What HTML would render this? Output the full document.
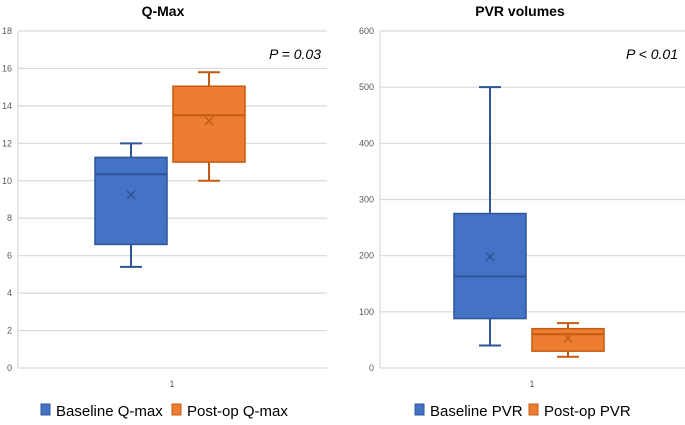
<!DOCTYPE html>
<html><head><meta charset="utf-8"><style>
body{margin:0;background:#fff;font-family:"Liberation Sans",sans-serif}
svg text{font-family:"Liberation Sans",sans-serif}
</style></head><body>
<svg id="c" width="685" height="420" xmlns="http://www.w3.org/2000/svg"></svg>
<script>
const qTicks=[0,2,4,6,8,10,12,14,16,18];
const qBaseline=[5.4,6.6,10.35,11.25,12,9.25];
const qPostop=[10,11,13.5,15.05,15.8,13.2];
const pTicks=[0,100,200,300,400,500,600];
const pBaseline=[40,88,163,275,500,198];
const pPostop=[20,30,60,70,80,53];
const titles=["Q-Max","PVR volumes"];
const pvals=["P = 0.03","P < 0.01"];
const legends=[["Baseline Q-max","Post-op Q-max"],["Baseline PVR","Post-op PVR"]];
const NS="http://www.w3.org/2000/svg";
const svg=document.getElementById('c');
function mk(t,a,p){const e=document.createElementNS(NS,t);for(const k in a)e.setAttribute(k,a[k]);(p||svg).appendChild(e);return e;}
function panel(cfg){
  const g=mk('g',{});
  
  
  const max=cfg.ticks[cfg.ticks.length-1];
  const y=v=>368-(v/max)*337;
  cfg.ticks.forEach(t=>{
    const l=mk('line',{x1:cfg.x0,x2:cfg.x1,y1:y(t),y2:y(t),stroke:'#d9d9d9','stroke-width':1.2},g);
    
    
    const tx=mk('text',{x:cfg.x0-6,y:y(t)+3,'text-anchor':'end','font-size':9,fill:'#595959'},g);
    tx.textContent=t;
    
    
  });
  const ax=mk('line',{x1:cfg.x0,x2:cfg.x0,y1:31,y2:368,stroke:'#d9d9d9','stroke-width':1.2},g);
  
  
  const t=mk('text',{x:cfg.tx,y:16,'text-anchor':'middle','font-size':14,'font-weight':'bold',fill:'#000'},g);
  t.textContent=cfg.title;
  
  
  const p=mk('text',{x:cfg.px,y:59,'text-anchor':'end','font-size':14,'font-style':'italic',fill:'#000'},g);
  p.textContent=cfg.pval;
  
  
  const c=mk('text',{x:cfg.cx,y:387,'text-anchor':'middle','font-size':9,fill:'#595959'},g);
  c.textContent='1';
  
  
  cfg.series.forEach((s,i)=>{
    const d=s.data, col=s.col, st=s.st, cx=s.cx, w=72;
    const b=mk('g',{},g);
    
    
    mk('line',{x1:cx,x2:cx,y1:y(d[4]),y2:y(d[3]),stroke:st,'stroke-width':2},b);
    mk('line',{x1:cx,x2:cx,y1:y(d[1]),y2:y(d[0]),stroke:st,'stroke-width':2},b);
    mk('line',{x1:cx-11,x2:cx+11,y1:y(d[4]),y2:y(d[4]),stroke:st,'stroke-width':2},b);
    mk('line',{x1:cx-11,x2:cx+11,y1:y(d[0]),y2:y(d[0]),stroke:st,'stroke-width':2},b);
    mk('rect',{x:cx-w/2,y:y(d[3]),width:w,height:y(d[1])-y(d[3]),fill:col,stroke:st,'stroke-width':1.5},b);
    mk('line',{x1:cx-w/2,x2:cx+w/2,y1:y(d[2]),y2:y(d[2]),stroke:st,'stroke-width':2},b);
    const my=y(d[5]);
    mk('path',{d:`M${cx-4} ${my-4}L${cx+4} ${my+4}M${cx+4} ${my-4}L${cx-4} ${my+4}`,stroke:st,'stroke-width':1.5},b);
    const lx=cfg.legx[i];
    const lg=mk('g',{},g);
    
    
    mk('rect',{x:lx,y:404,width:9,height:11,fill:col,stroke:st,'stroke-width':1},lg);
    const lt=mk('text',{x:lx+15,y:416,'font-size':15,fill:'#000'},lg);
    lt.textContent=cfg.leg[i];
  });
}
const blue='#4472c4',bst='#2f5597',org='#ed7d31',ost='#c55a11';
panel({name:'qmax-chart',ticks:qTicks,x0:18,x1:327,tx:163,px:321,cx:172,title:titles[0],pval:pvals[0],leg:legends[0],legx:[41,172],
 series:[{data:qBaseline,col:blue,st:bst,cx:131},{data:qPostop,col:org,st:ost,cx:209}]});
panel({name:'pvr-chart',ticks:pTicks,x0:380,x1:685,tx:520,px:678,cx:532,title:titles[1],pval:pvals[1],leg:legends[1],legx:[415,529],
 series:[{data:pBaseline,col:blue,st:bst,cx:490},{data:pPostop,col:org,st:ost,cx:568}]});
</script>
</body></html>
